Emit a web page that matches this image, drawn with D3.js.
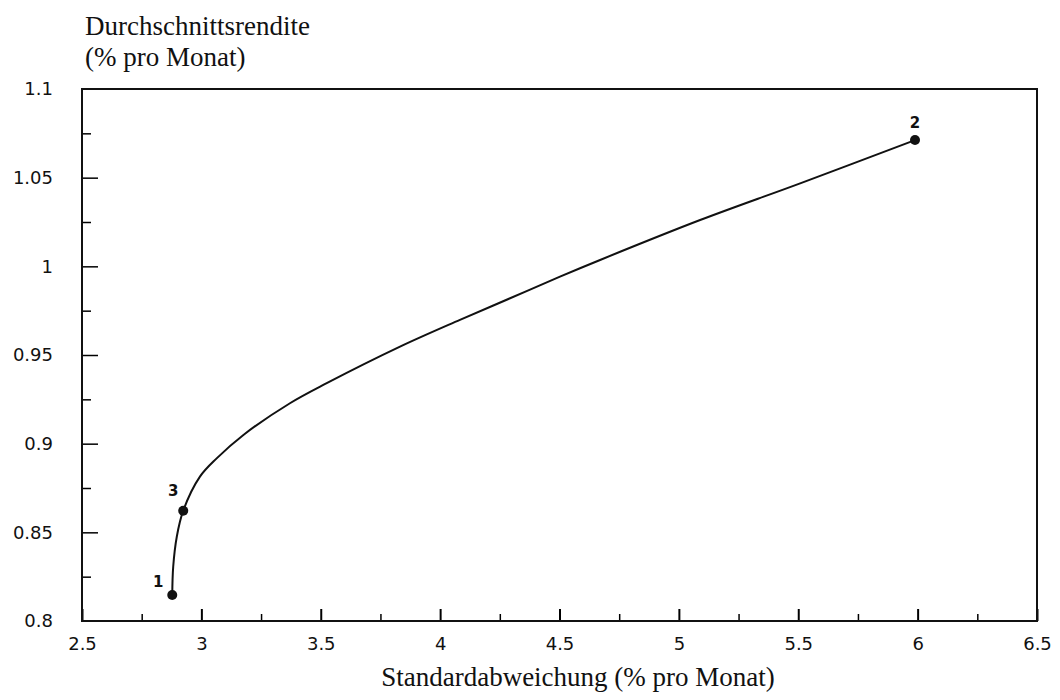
<!DOCTYPE html>
<html lang="de">
<head>
<meta charset="UTF-8">
<title>Effizienzkurve</title>
<script src="https://cdn.jsdelivr.net/npm/d3@7"></script>
<style>
    body { margin: 0; background: white; }
    .tick text { font-family: "DejaVu Sans", sans-serif; font-size: 18px; fill: #111; }
    .title { font-family: "Liberation Serif", "Times New Roman", serif; font-size: 27px; fill: #111; }
    .ptlabel { font-family: "DejaVu Sans", sans-serif; font-size: 15px; font-weight: bold; fill: #111; }
</style>
</head>
<body>
<div id="chart"></div>
<script>
    // Effizienzkurve: Standardabweichung (x) vs. Durchschnittsrendite (y)
    const curveSigma = [2.878, 2.882, 2.897, 2.924, 2.994, 3.064, 3.176, 3.371, 3.525, 3.832, 4.083, 4.293, 4.502, 4.670, 5.089, 5.508, 5.989];
    const curveMean  = [0.8147, 0.8306, 0.8475, 0.8622, 0.8814, 0.8917, 0.9049, 0.9228, 0.9341, 0.9547, 0.9698, 0.9820, 0.9942, 1.0036, 1.0261, 1.0468, 1.0712];

    const pointNames = ["1", "3", "2"];
    const pointSigma = [2.878, 2.924, 5.989];
    const pointMean  = [0.8147, 0.8622, 1.0712];

    const xTicks = [2.5, 3, 3.5, 4, 4.5, 5, 5.5, 6, 6.5];
    const yTicks = [0.8, 0.85, 0.9, 0.95, 1, 1.05, 1.1];

    const width = 1060, height = 700;
    const margin = {top: 89, right: 23, bottom: 79, left: 82};

    const svg = d3.select("#chart").append("svg")
        .attr("width", width)
        .attr("height", height);

    const x = d3.scaleLinear().domain([2.5, 6.5]).range([margin.left, width - margin.right]);
    const y = d3.scaleLinear().domain([0.8, 1.1]).range([height - margin.bottom, margin.top]);

    // minor ticks halfway between majors
    const xMinor = d3.range(2.75, 6.5, 0.5);
    const yMinor = d3.range(0.825, 1.1, 0.05);

    const xAxis = svg.append("g")
        .attr("transform", `translate(0,${height - margin.bottom})`)
        .call(d3.axisBottom(x).tickValues(xTicks).tickSize(-12).tickPadding(16)
            .tickFormat(d => String(d)));
    xAxis.select(".domain").remove();
    xAxis.selectAll(".tick line").attr("stroke-width", 2);

    svg.append("g")
        .attr("transform", `translate(0,${height - margin.bottom})`)
        .call(d3.axisBottom(x).tickValues(xMinor).tickSize(-7).tickFormat(""))
        .call(g => g.select(".domain").remove())
        .selectAll(".tick line").attr("stroke-width", 1.5);

    const yAxis = svg.append("g")
        .attr("transform", `translate(${margin.left},0)`)
        .call(d3.axisLeft(y).tickValues(yTicks).tickSize(-16).tickPadding(29)
            .tickFormat(d => String(d)));
    yAxis.select(".domain").remove();
    yAxis.selectAll(".tick line").attr("stroke-width", 1.5);
    yAxis.selectAll(".tick line").filter(d => d === 0.8 || d === 1.1).remove();

    svg.append("g")
        .attr("transform", `translate(${margin.left},0)`)
        .call(d3.axisLeft(y).tickValues(yMinor).tickSize(-9).tickFormat(""))
        .call(g => g.select(".domain").remove())
        .selectAll(".tick line").attr("stroke-width", 1.5);

    // frame
    svg.append("rect")
        .attr("x", x(2.5))
        .attr("y", y(1.1))
        .attr("width", x(6.5) - x(2.5))
        .attr("height", y(0.8) - y(1.1))
        .attr("fill", "none")
        .attr("stroke", "#111")
        .attr("stroke-width", 2);

    // curve
    const line = d3.line()
        .x(i => x(curveSigma[i]))
        .y(i => y(curveMean[i]))
        .curve(d3.curveCatmullRom.alpha(0.5));

    svg.append("path")
        .attr("d", line(d3.range(curveSigma.length)))
        .attr("fill", "none")
        .attr("stroke", "#111")
        .attr("stroke-width", 2);

    // portfolios
    svg.selectAll("circle.pt")
        .data(pointNames)
        .enter()
        .append("circle")
        .attr("class", "pt")
        .attr("cx", (d, i) => x(pointSigma[i]))
        .attr("cy", (d, i) => y(pointMean[i]))
        .attr("r", 5)
        .attr("fill", "#111");

    const labelOffset = {"1": [-14, -8], "3": [-10, -15], "2": [0, -12]};
    svg.selectAll("text.ptlabel")
        .data(pointNames)
        .enter()
        .append("text")
        .attr("class", "ptlabel")
        .attr("x", (d, i) => x(pointSigma[i]) + labelOffset[d][0])
        .attr("y", (d, i) => y(pointMean[i]) + labelOffset[d][1])
        .attr("text-anchor", "middle")
        .text(d => d);

    // axis titles
    svg.append("text").attr("class", "title")
        .attr("x", 85).attr("y", 35)
        .text("Durchschnittsrendite");
    svg.append("text").attr("class", "title")
        .attr("x", 85).attr("y", 66)
        .text("(% pro Monat)");
    svg.append("text").attr("class", "title")
        .attr("x", 578).attr("y", 686)
        .attr("text-anchor", "middle")
        .text("Standardabweichung (% pro Monat)");
</script>
</body>
</html>
